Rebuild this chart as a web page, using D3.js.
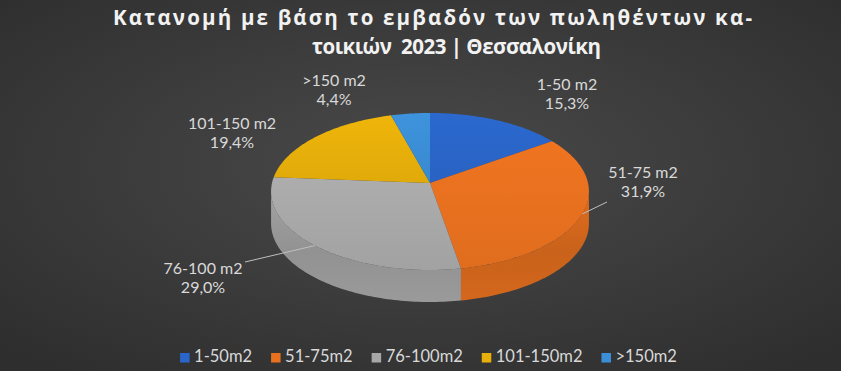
<!DOCTYPE html>
<html>
<head>
<meta charset="utf-8">
<script src="https://cdn.jsdelivr.net/npm/d3@7"></script>
<style>
body{margin:0;background:#333}
svg{display:block}
</style>
</head>
<body>
<svg></svg>
<script>
var categories = ["1-50 m2", "51-75 m2", "76-100 m2", "101-150 m2", ">150 m2"]
var legendLabels = ["1-50m2", "51-75m2", "76-100m2", "101-150m2", ">150m2"]
var shares = [15.3, 31.9, 29.0, 19.4, 4.4]
var sliceCols = ["#2a66c9", "#e8711f", "#a8a8a8", "#e8b00a", "#3b8fd6"]
var titleLines = ["Κατανομή με βάση το εμβαδόν των πωληθέντων κα-", "τοικιών  2023 | Θεσσαλονίκη"]

// layout only
var W = 841, H = 371
var cx = 430, cy = 183, rx = 158, ry = 77.6, tilt = 0.108, depth = 32
var labelAt = [[567, 94], [643, 182], [203, 278], [232, 133], [334, 90]]
var leaderEnd = [null, [607, 202], [245, 262], null, null]

var svg = d3.select("svg")
	.attr("width", W)
	.attr("height", H)

var defs = svg.append("defs")
var bg = defs.append("radialGradient").attr("id", "bg")
	.attr("cx", "50%").attr("cy", "45%").attr("r", "70%")
bg.append("stop").attr("offset", "0%").attr("stop-color", "#4a4a4a")
bg.append("stop").attr("offset", "100%").attr("stop-color", "#2e2e2e")

svg.append("rect").attr("width", W).attr("height", H).attr("fill", "url(#bg)")

var color = d3.scaleOrdinal().domain(categories).range(sliceCols)

var xScale = d3.scaleLinear().domain([-1, 1]).range([cx - rx, cx + rx])
var yScale = d3.scaleLinear().domain([-1, 1]).range([cy - ry, cy + ry])

// simple perspective: the near edge is drawn a bit bigger
function proj(t, dz) {
	var u = Math.sin(t), v = -Math.cos(t), den = 1 - tilt * v
	return [xScale(u / den), yScale(v / den) + (dz || 0)]
}

function arcPts(s, e, dz) {
	var n = Math.max(2, Math.ceil((e - s) / 0.02))
	return d3.range(n + 1).map(function(i) { return proj(s + (e - s) * i / n, dz) })
}

var pie = d3.pie().sort(null).value(function(d) { return d })
var slices = pie(shares)

// front facing part of the rim
var samples = d3.range(0, 2 * Math.PI, 0.002)
var tRight = samples[d3.maxIndex(samples, function(t) { return proj(t)[0] })]
var tLeft = samples[d3.minIndex(samples, function(t) { return proj(t)[0] })]

slices.forEach(function(d, i) {
	var c = d3.color(color(categories[i]))
	var g1 = defs.append("linearGradient").attr("id", "side" + i)
		.attr("x1", 0).attr("y1", 0).attr("x2", 0).attr("y2", 1)
	g1.append("stop").attr("offset", "0%").attr("stop-color", c.darker(0.1))
	g1.append("stop").attr("offset", "55%").attr("stop-color", c.darker(0.4))
	g1.append("stop").attr("offset", "100%").attr("stop-color", c.darker(0.25))
	var g2 = defs.append("linearGradient").attr("id", "top" + i)
		.attr("x1", 0).attr("y1", 0).attr("x2", 0).attr("y2", 1)
	g2.append("stop").attr("offset", "0%").attr("stop-color", c.brighter(0.08))
	g2.append("stop").attr("offset", "100%").attr("stop-color", c.darker(0.1))
})

var line = d3.line()

var sides = svg.append("g")
slices.forEach(function(d, i) {
	var s = Math.max(d.startAngle, tRight), e = Math.min(d.endAngle, tLeft)
	if (e <= s) return
	var pts = arcPts(s, e, 0).concat(arcPts(s, e, depth).reverse())
	sides.append("path")
		.attr("d", line(pts) + "Z")
		.attr("fill", "url(#side" + i + ")")
})

svg.append("g").selectAll("path")
	.data(slices)
	.join("path")
	.attr("d", function(d) {
		return line([[cx, cy]].concat(arcPts(d.startAngle, d.endAngle, 0))) + "Z"
	})
	.attr("fill", function(d, i) { return "url(#top" + i + ")" })

// leader lines
slices.forEach(function(d, i) {
	if (!leaderEnd[i]) return
	var p = proj((d.startAngle + d.endAngle) / 2)
	svg.append("line")
		.attr("x1", p[0]).attr("y1", p[1])
		.attr("x2", leaderEnd[i][0]).attr("y2", leaderEnd[i][1])
		.attr("stroke", "#bfbfbf").attr("stroke-width", 1)
})

var fmt = function(v) { return d3.format(".1f")(v).replace(".", ",") + "%" }

var labels = svg.append("g")
	.attr("font-family", "Lato, 'Open Sans', sans-serif")
	.attr("font-size", 16)
	.attr("fill", "#d9d9d9")
	.attr("text-anchor", "middle")

labels.selectAll("text")
	.data(slices)
	.join("text")
	.attr("transform", function(d, i) { return "translate(" + labelAt[i][0] + "," + labelAt[i][1] + ")" })
	.each(function(d, i) {
		var t = d3.select(this)
		t.append("tspan").attr("x", 0).attr("y", -4).text(categories[i])
		t.append("tspan").attr("x", 0).attr("y", 15).text(fmt(d.data))
	})

// title (keep the double space after the word break)
var title = svg.append("g")
	.attr("font-family", "'Open Sans', 'Noto Sans', sans-serif")
	.attr("font-weight", "bold")
	.attr("font-size", 20.5)
	.attr("fill", "#f2f2f2")

title.append("text").attr("x", 113).attr("y", 25)
	.attr("textLength", 639).attr("lengthAdjust", "spacing")
	.text(titleLines[0])
title.append("text").attr("x", 312).attr("y", 54)
	.attr("textLength", 289).attr("lengthAdjust", "spacing")
	.text(titleLines[1].replace(/  /g, " \u00a0"))

// legend
var legend = svg.append("g")
	.attr("font-family", "Lato, 'Open Sans', sans-serif")
	.attr("font-size", 16.5)
	.attr("fill", "#d9d9d9")

var items = legend.selectAll("g")
	.data(legendLabels)
	.join("g")

items.append("rect")
	.attr("width", 9.5).attr("height", 9.5)
	.attr("y", -9)
	.attr("fill", function(d, i) { return sliceCols[i] })

items.append("text")
	.attr("x", 14)
	.text(function(d) { return d })

var widths = []
items.selectAll("text").each(function() { widths.push(14 + this.getComputedTextLength()) })
var gap = 19
var total = d3.sum(widths) + gap * (widths.length - 1)
var xPos = 428.5 - total / 2
items.attr("transform", function(d, i) {
	var x = xPos
	xPos += widths[i] + gap
	return "translate(" + x + ",362)"
})
</script>
</body>
</html>
